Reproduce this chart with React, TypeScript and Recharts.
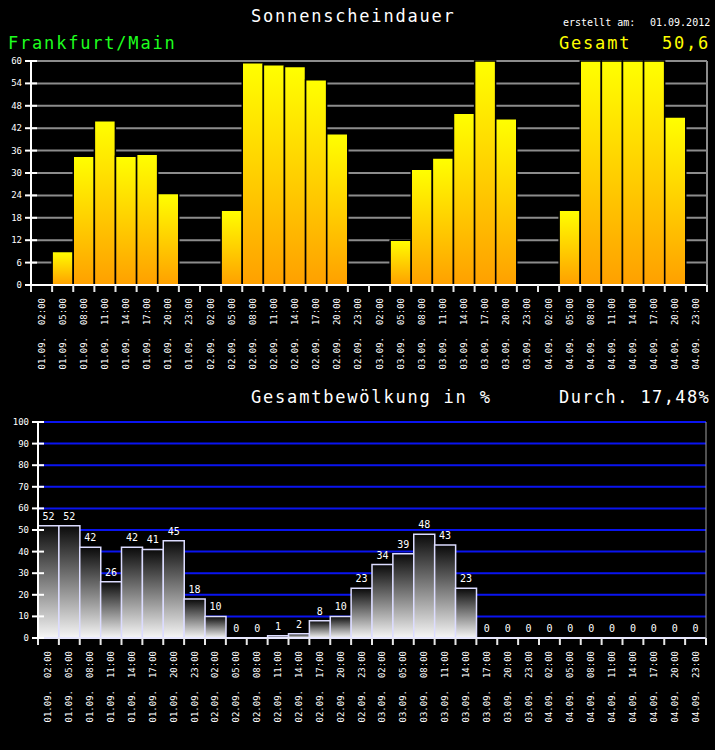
import { Bar, CartesianGrid, ComposedChart, LabelList, Line, XAxis, YAxis } from "recharts";

const days = ["01.09.", "02.09.", "03.09.", "04.09."];
const hours = ["02:00", "05:00", "08:00", "11:00", "14:00", "17:00", "20:00", "23:00"];

// Sonnenscheindauer, Minuten je Stunde
const sunMinutes = [
  0, 9, 34.5, 44, 34.5, 35, 24.5, 0,
  0, 20, 59.5, 59, 58.5, 55, 40.5, 0,
  0, 12, 31, 34, 46, 60, 44.5, 0,
  0, 20, 60, 60, 60, 60, 45, 0,
];

// Gesamtbewölkung in %
const cloudPercent = [
  52, 52, 42, 26, 42, 41, 45, 18,
  10, 0, 0, 1, 2, 8, 10, 23,
  34, 39, 48, 43, 23, 0, 0, 0,
  0, 0, 0, 0, 0, 0, 0, 0,
];

const sunTicks = [0, 6, 12, 18, 24, 30, 36, 42, 48, 54, 60];
const cloudTicks = [0, 10, 20, 30, 40, 50, 60, 70, 80, 90, 100];

const slots = days.flatMap((d) => hours.map((h) => `${d} ${h}`));
const sunData = slots.map((slot, i) => ({ slot, sun: sunMinutes[i] }));
const cloudData = slots.map((slot, i) => ({ slot, cloud: cloudPercent[i] }));

const mono = "'DejaVu Sans Mono', monospace";
const W = 715;

const slotTick = (step: number, stroke: string) => (props: any) => {
  const { x, y, payload, index } = props;
  const [date, time] = String(payload.value).split(" ");
  const half = step / 2;
  const px = x + 3;
  return (
    <g>
      <line x1={x - half} x2={x - half} y1={y} y2={y + 7} stroke={stroke} strokeWidth={2} />
      {index === slots.length - 1 && (
        <line x1={x + half} x2={x + half} y1={y} y2={y + 7} stroke={stroke} strokeWidth={2} />
      )}
      <text
        x={px}
        y={y + 13}
        transform={`rotate(-90, ${px}, ${y + 13})`}
        textAnchor="end"
        fill="#fff"
        fontSize={9}
        fontFamily={mono}
      >
        {time}
      </text>
      <text
        x={px}
        y={y + 52}
        transform={`rotate(-90, ${px}, ${y + 52})`}
        textAnchor="end"
        fill="#fff"
        fontSize={9}
        fontFamily={mono}
      >
        {date}
      </text>
    </g>
  );
};

const valueTick = (props: any) => {
  const { x, y, payload } = props;
  return (
    <g>
      <line x1={x - 6} x2={x + 6} y1={y} y2={y} stroke="#fff" strokeWidth={2} />
      <text x={x - 9} y={y + 3} textAnchor="end" fill="#fff" fontSize={9} fontFamily={mono}>
        {payload.value}
      </text>
    </g>
  );
};

function SunChart() {
  const left = 31;
  const right = 8;
  const step = (W - left - right) / slots.length;
  return (
    <ComposedChart
      width={W}
      height={380}
      data={sunData}
      margin={{ top: 61, right: 0, bottom: 0, left: 0 }}
      barCategoryGap={0}
    >
      <defs>
        <linearGradient id="sunFill" x1="0" y1="0" x2="0" y2="1">
          <stop offset="0%" stopColor="#ffff00" />
          <stop offset="100%" stopColor="#ffa000" />
        </linearGradient>
      </defs>
      <CartesianGrid yAxisId="left" vertical={false} stroke="#8c8c8c" strokeWidth={2} />
      <XAxis
        dataKey="slot"
        interval={0}
        height={95}
        axisLine={{ stroke: "#fff", strokeWidth: 2 }}
        tickLine={false}
        tickSize={0}
        tickMargin={0}
        tick={slotTick(step, "#e8e8e8")}
      />
      <YAxis
        yAxisId="left"
        width={left}
        domain={[0, 60]}
        ticks={sunTicks}
        interval={0}
        axisLine={{ stroke: "#fff", strokeWidth: 2 }}
        tickLine={false}
        tickSize={0}
        tickMargin={0}
        tick={valueTick}
      />
      <YAxis
        yAxisId="right"
        orientation="right"
        width={right}
        domain={[0, 60]}
        tick={false}
        tickLine={false}
        axisLine={{ stroke: "#8c8c8c", strokeWidth: 2 }}
      />
      <Bar
        yAxisId="left"
        dataKey="sun"
        fill="url(#sunFill)"
        stroke="#000"
        strokeWidth={1.5}
        isAnimationActive={false}
      />
    </ComposedChart>
  );
}

function CloudChart() {
  const left = 38;
  const right = 9;
  const step = (W - left - right) / slots.length;
  return (
    <ComposedChart
      width={W}
      height={370}
      data={cloudData}
      margin={{ top: 42, right: 0, bottom: 0, left: 0 }}
      barCategoryGap={0}
    >
      <defs>
        <linearGradient id="cloudFill" x1="0" y1="0" x2="0" y2="1">
          <stop offset="0%" stopColor="#0a0a0a" />
          <stop offset="100%" stopColor="#f6f6f6" />
        </linearGradient>
      </defs>
      <CartesianGrid yAxisId="left" vertical={false} stroke="#0a14f0" strokeWidth={2} />
      <XAxis
        dataKey="slot"
        interval={0}
        height={112}
        axisLine={{ stroke: "#e8e8ff", strokeWidth: 2 }}
        tickLine={false}
        tickSize={0}
        tickMargin={0}
        tick={slotTick(step, "#e8e8e8")}
      />
      <YAxis
        yAxisId="left"
        width={left}
        domain={[0, 100]}
        ticks={cloudTicks}
        interval={0}
        axisLine={{ stroke: "#fff", strokeWidth: 2 }}
        tickLine={false}
        tickSize={0}
        tickMargin={0}
        tick={valueTick}
      />
      <YAxis
        yAxisId="right"
        orientation="right"
        width={right}
        domain={[0, 100]}
        tick={false}
        tickLine={false}
        axisLine={{ stroke: "#a0a0a0", strokeWidth: 1 }}
      />
      <Bar
        yAxisId="left"
        dataKey="cloud"
        fill="url(#cloudFill)"
        stroke="#dcdcff"
        strokeWidth={1.5}
        isAnimationActive={false}
      />
      <Line
        yAxisId="left"
        dataKey="cloud"
        stroke="none"
        dot={false}
        activeDot={false}
        isAnimationActive={false}
      >
        <LabelList dataKey="cloud" position="top" offset={6} fill="#fff" fontSize={10} fontFamily={mono} />
      </Line>
    </ComposedChart>
  );
}

export default function App() {
  const big = { fontFamily: mono, fontSize: 17, letterSpacing: 1.8 };
  return (
    <div style={{ position: "absolute", left: 0, top: 0, width: W, height: 750, background: "#000", overflow: "hidden" }}>
      <div style={{ position: "absolute", left: 0, top: 0 }}>
        <SunChart />
      </div>
      <div style={{ position: "absolute", left: 0, top: 380 }}>
        <CloudChart />
      </div>
      <svg width={W} height={750} style={{ position: "absolute", left: 0, top: 0, pointerEvents: "none" }}>
        <text x={251} y={22} fill="#fff" {...big}>Sonnenscheindauer</text>
        <text x={563} y={26} fill="#fff" fontFamily={mono} fontSize={10}>erstellt am:</text>
        <text x={650} y={26} fill="#fff" fontFamily={mono} fontSize={10}>01.09.2012</text>
        <text x={8} y={49} fill="#1eff1e" {...big}>Frankfurt/Main</text>
        <text x={559} y={49} fill="#ffff00" {...big}>Gesamt</text>
        <text x={662} y={49} fill="#ffff00" {...big}>50,6</text>
        <text x={251} y={403} fill="#fff" {...big}>Gesamtbewölkung in %</text>
        <text x={559} y={403} fill="#fff" {...big} letterSpacing={1.4}>Durch. 17,48%</text>
      </svg>
    </div>
  );
}
